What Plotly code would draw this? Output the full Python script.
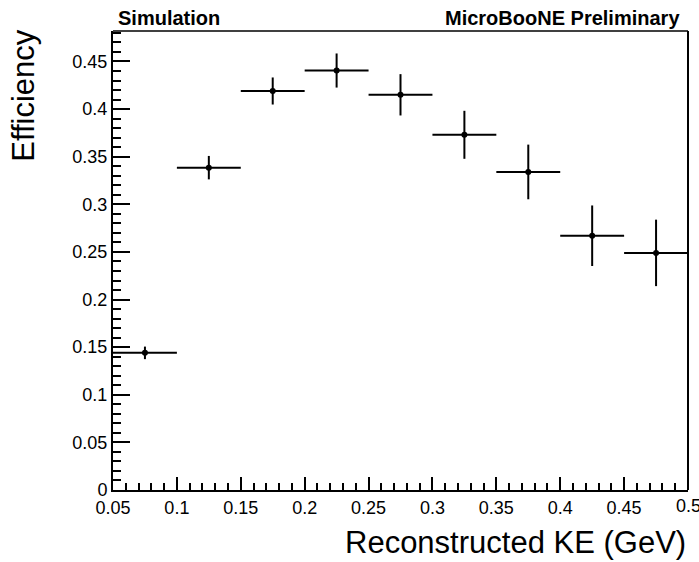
import plotly.graph_objects as go

# Data
ke_centers = [0.075, 0.125, 0.175, 0.225, 0.275, 0.325, 0.375, 0.425, 0.475]
bin_halfwidth = [0.025] * 9
efficiency = [0.144, 0.3385, 0.419, 0.4405, 0.415, 0.373, 0.334, 0.267, 0.249]
eff_err = [0.0066, 0.0123, 0.0142, 0.0179, 0.0217, 0.0252, 0.0287, 0.0318, 0.0349]
x_ticks = [0.05, 0.1, 0.15, 0.2, 0.25, 0.3, 0.35, 0.4, 0.45, 0.5]
x_ticklabels = ["0.05", "0.1", "0.15", "0.2", "0.25", "0.3", "0.35", "0.4", "0.45", "0.5"]

FONT = "Liberation Sans, Arial, Helvetica, sans-serif"

fig = go.Figure()
fig.add_trace(go.Scatter(
    x=ke_centers, y=efficiency, mode="markers",
    marker=dict(color="black", size=6),
    error_x=dict(type="data", array=bin_halfwidth, color="black", thickness=2, width=0),
    error_y=dict(type="data", array=eff_err, color="black", thickness=2, width=0),
    showlegend=False, cliponaxis=False,
))

fig.update_layout(
    width=699, height=562,
    margin=dict(l=113, r=11, t=31, b=72),
    paper_bgcolor="white", plot_bgcolor="white",
    font=dict(family=FONT, color="black"),
)
fig.update_xaxes(
    range=[0.05, 0.5], showgrid=False, zeroline=False,
    showline=True, linecolor="black", linewidth=2,
    ticks="inside", tickcolor="black", ticklen=13, tickwidth=2,
    tickvals=x_ticks[:-1], ticktext=x_ticklabels[:-1],
    tickfont=dict(size=18, family=FONT),
    minor=dict(ticks="inside", dtick=0.01, tick0=0.05, ticklen=7, tickwidth=2, tickcolor="black", showgrid=False),
)
fig.update_yaxes(
    range=[0, 0.482], showgrid=False, zeroline=False,
    showline=True, linecolor="black", linewidth=2,
    ticks="inside", tickcolor="black", ticklen=17, tickwidth=2,
    dtick=0.05, tick0=0,
    tickfont=dict(size=18, family=FONT),
    minor=dict(ticks="inside", dtick=0.01, ticklen=8, tickwidth=2, tickcolor="black", showgrid=False),
)
# last x tick (at the right edge) and its label
fig.add_shape(type="line", xref="x", yref="paper", x0=x_ticks[-1], x1=x_ticks[-1], y0=0, y1=13/459,
              line=dict(color="black", width=2))
fig.add_annotation(text=x_ticklabels[-1], xref="x", yref="paper", x=x_ticks[-1], y=0,
                   xanchor="center", yanchor="top", yshift=-4, showarrow=False,
                   font=dict(size=18, family=FONT))
# frame (top and right)
fig.add_shape(type="line", xref="paper", yref="paper", x0=0, x1=1, y0=1, y1=1,
              line=dict(color="black", width=1.5))
fig.add_shape(type="line", xref="paper", yref="paper", x0=1, x1=1, y0=0, y1=1,
              line=dict(color="black", width=2))

fig.add_annotation(text="Reconstructed KE (GeV)", xref="paper", yref="paper",
                   x=1, y=-0.115, xanchor="right", yanchor="middle", showarrow=False,
                   font=dict(size=31, family=FONT))
fig.add_annotation(text="Efficiency", xref="paper", yref="paper",
                   x=-0.155, y=1.01, xanchor="center", yanchor="top", textangle=-90,
                   showarrow=False, font=dict(size=31, family=FONT))
fig.add_annotation(text="<b>Simulation</b>", xref="paper", yref="paper",
                   x=0.005, y=1.0, xanchor="left", yanchor="bottom", showarrow=False,
                   font=dict(size=20, family=FONT))
fig.add_annotation(text="<b>MicroBooNE Preliminary</b>", xref="paper", yref="paper",
                   x=0.99, y=1.0, xanchor="right", yanchor="bottom", showarrow=False,
                   font=dict(size=20, family=FONT))

fig.write_html("out.html")
